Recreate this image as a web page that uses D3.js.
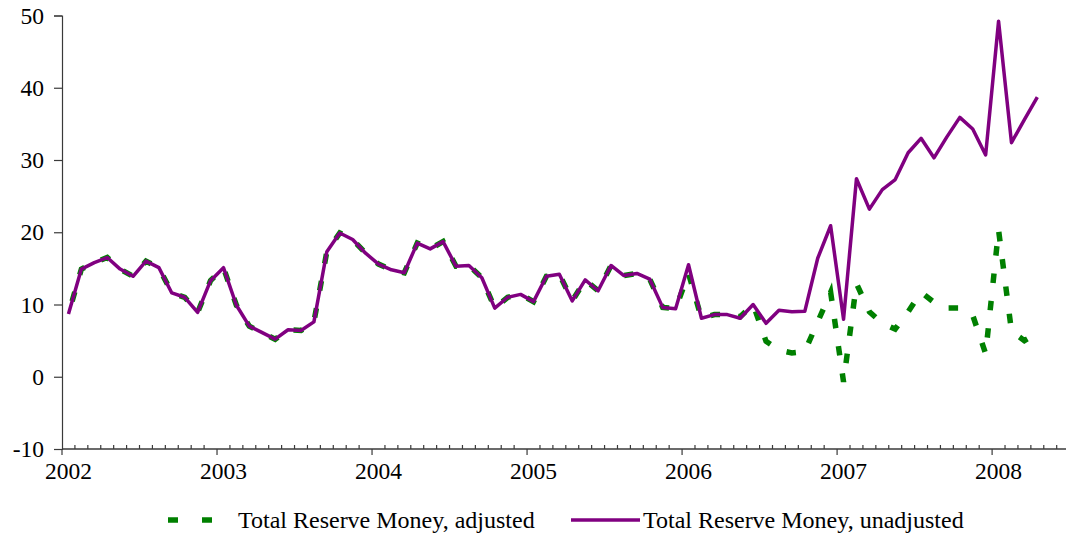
<!DOCTYPE html>
<html>
<head>
<meta charset="utf-8">
<script src="https://cdn.jsdelivr.net/npm/d3@7"></script>
<style>
  html, body { margin: 0; padding: 0; background: #fff; }
  svg { display: block; }
  text { font-family: "Liberation Serif", "Times New Roman", serif; fill: #000; }
</style>
</head>
<body>
<svg id="chart" width="1066" height="540"></svg>
<script>
// ---- Data (monthly, Jan 2002 - Apr 2008) ----
const years = ["2002", "2003", "2004", "2005", "2006", "2007", "2008"];
const yTicks = [-10, 0, 10, 20, 30, 40, 50];
const seriesNames = ["Total Reserve Money, adjusted", "Total Reserve Money, unadjusted"];

const unadjusted = [
  8.7, 14.9, 15.8, 16.5, 14.9, 13.9, 16.0, 15.1, 11.6, 11.0, 8.9, 13.3,
  15.1, 9.9, 7.0, 6.1, 5.2, 6.5, 6.4, 7.6, 17.3, 19.9, 19.0, 17.1,
  15.6, 14.8, 14.4, 18.5, 17.7, 18.7, 15.3, 15.4, 13.7, 9.5, 11.0, 11.4,
  10.4, 13.9, 14.2, 10.5, 13.4, 11.9, 15.4, 14.0, 14.3, 13.5, 9.6, 9.4,
  15.5, 8.1, 8.6, 8.6, 8.1, 10.0, 7.4, 9.2, 9.0, 9.05, 16.4, 20.9,
  7.95, 27.4, 23.2, 25.9, 27.3, 31.0, 33.0, 30.3, 33.2, 35.9, 34.3, 30.7,
  49.2, 32.4, 35.6, 38.7
];
const adjusted = [
  8.7, 14.9, 15.8, 16.5, 14.9, 13.9, 16.0, 15.1, 11.6, 11.0, 8.9, 13.3,
  15.1, 9.9, 7.0, 6.1, 5.2, 6.5, 6.4, 7.6, 17.3, 19.9, 19.0, 17.1,
  15.6, 14.8, 14.4, 18.5, 17.7, 18.7, 15.3, 15.4, 13.7, 9.5, 11.0, 11.4,
  10.4, 13.9, 14.2, 10.5, 13.4, 11.9, 15.4, 14.0, 14.3, 13.5, 9.6, 9.4,
  14.3, 8.1, 8.6, 8.6, 8.3, 10.0, 4.9, 3.7, 3.3, 3.5, 7.6, 11.7,
  -0.7, 12.9, 9.0, 7.4, 6.6, 9.0, 11.7, 10.3, 9.5, 9.5, 8.5, 3.2,
  20.3, 6.3, 5.0, 6.0
];

// ---- Layout ----
const svg = d3.select("#chart");
const mLeft = 62, mRight = 1066, mTop = 15.5, mBottom = 449;
const monthsShown = 77.72;

const x = d3.scaleLinear().domain([0, monthsShown]).range([mLeft, mRight]);
const y = d3.scaleLinear().domain([-10, 50]).range([mBottom, mTop]);

const axisColor = "#3a3a3a";

// Y axis
const yAxis = d3.axisLeft(y).tickValues(yTicks).tickSize(8).tickPadding(10).tickFormat(d => String(d));
const gy = svg.append("g").attr("transform", `translate(${mLeft},0)`).call(yAxis);
gy.attr("font-family", null);
gy.select(".domain").attr("stroke", axisColor).attr("stroke-width", 1.2);
gy.selectAll(".tick line").attr("stroke", axisColor).attr("stroke-width", 1.2);
gy.selectAll(".tick text").attr("font-size", 23.5).attr("fill", "#000");

// X axis line
svg.append("line")
  .attr("x1", mLeft).attr("x2", mRight).attr("y1", mBottom).attr("y2", mBottom)
  .attr("stroke", axisColor).attr("stroke-width", 1.5);

// Minor monthly ticks (upward)
const monthBounds = d3.range(1, Math.floor(monthsShown) + 1).filter(m => m % 12 !== 0);
svg.append("g").selectAll("line").data(monthBounds).join("line")
  .attr("x1", d => x(d)).attr("x2", d => x(d))
  .attr("y1", mBottom).attr("y2", mBottom - 4)
  .attr("stroke", axisColor).attr("stroke-width", 1.2);

// Major year ticks (downward)
const yearBounds = years.map((yr, i) => i * 12);
svg.append("g").selectAll("line").data(yearBounds).join("line")
  .attr("x1", d => x(d)).attr("x2", d => x(d))
  .attr("y1", mBottom).attr("y2", mBottom + 6)
  .attr("stroke", axisColor).attr("stroke-width", 1.2);

// Year labels, centred on January points
svg.append("g").selectAll("text").data(years).join("text")
  .attr("x", (d, i) => x(i * 12 + 0.5))
  .attr("y", 479)
  .attr("text-anchor", "middle")
  .attr("font-size", 23.5)
  .text(d => d);

// Lines
const line = d3.line().x((d, i) => x(i + 0.5)).y(d => y(d));

const dashLen = 9.5, gapLen = 18;
const greenPath = svg.append("path").datum(adjusted)
  .attr("d", line)
  .attr("fill", "none")
  .attr("stroke", "#008000")
  .attr("stroke-width", 5.5)
  .attr("stroke-dasharray", `${dashLen},${gapLen}`)
  .attr("stroke-linejoin", "miter");

// Dash phase: centre a dash on the Sep-Oct 2007 segment (flat part of the adjusted series)
(function () {
  const p = greenPath.node();
  const k = 68;
  const tx = (x(k + 0.5) + x(k + 1.5)) / 2;
  const ty = (y(adjusted[k]) + y(adjusted[k + 1])) / 2;
  const total = p.getTotalLength();
  let best = 0, bestD = Infinity;
  for (let s = 0; s <= total; s += 0.25) {
    const pt = p.getPointAtLength(s);
    const d = (pt.x - tx) ** 2 + (pt.y - ty) ** 2;
    if (d < bestD) { bestD = d; best = s; }
  }
  const period = dashLen + gapLen;
  const off = (((dashLen / 2 - best) % period) + period) % period;
  greenPath.attr("stroke-dashoffset", off);
})();

svg.append("path").datum(unadjusted)
  .attr("d", line)
  .attr("fill", "none")
  .attr("stroke", "#800080")
  .attr("stroke-width", 3.5)
  .attr("stroke-linejoin", "round");

// Legend
const lg = svg.append("g");
lg.append("line")
  .attr("x1", 168).attr("x2", 212).attr("y1", 520).attr("y2", 520)
  .attr("stroke", "#008000").attr("stroke-width", 5.5)
  .attr("stroke-dasharray", "10,24");
lg.append("text").attr("x", 238).attr("y", 528).attr("font-size", 24).text(seriesNames[0]);
lg.append("line")
  .attr("x1", 571).attr("x2", 640).attr("y1", 520).attr("y2", 520)
  .attr("stroke", "#800080").attr("stroke-width", 3.5);
lg.append("text").attr("x", 643).attr("y", 528).attr("font-size", 24).text(seriesNames[1]);
</script>
</body>
</html>
